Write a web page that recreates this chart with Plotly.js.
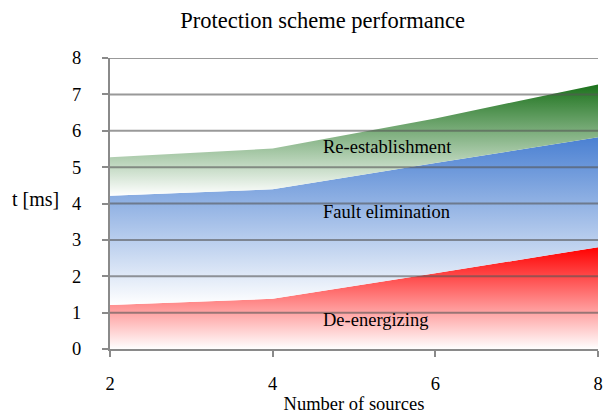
<!DOCTYPE html>
<html>
<head>
<meta charset="utf-8">
<script src="https://cdn.plot.ly/plotly-3.0.1.min.js"></script>
<style>
  html, body { margin: 0; padding: 0; background: #fff; }
  #chart { width: 603px; height: 415px; }
</style>
</head>
<body>
<div id="chart"></div>
<script>
// Number of sources in the network
const sources = [2, 4, 6, 8];

// Duration of each protection stage [ms]
const deEnergizing     = [1.21, 1.38, 2.08, 2.80];
const faultElimination = [3.00, 3.01, 3.03, 3.02];
const reEstablishment  = [1.06, 1.12, 1.23, 1.45];

const seriesNames = ['De-energizing', 'Fault elimination', 'Re-establishment'];
const seriesColors = ['#ff0000', '#4a80d2', '#1c721c'];

const yTicks = [0, 1, 2, 3, 4, 5, 6, 7, 8];
const xTicks = [2, 4, 6, 8];

// cumulative tops for each stacked band, used for the gradient extents
const stages = [deEnergizing, faultElimination, reEstablishment];
const tops = [];
let running = sources.map(() => 0);
stages.forEach(s => {
  running = running.map((v, i) => v + s[i]);
  tops.push(running.slice());
});

const traces = stages.map((vals, k) => {
  const lower = k === 0 ? 0 : Math.min(...tops[k - 1]);
  const upper = Math.max(...tops[k]);
  return {
    x: sources,
    y: vals,
    name: seriesNames[k],
    type: 'scatter',
    mode: 'lines',
    stackgroup: 'stages',
    line: { width: 0 },
    fillgradient: {
      type: 'vertical',
      start: lower,
      stop: upper,
      colorscale: [[0, '#ffffff'], [1, seriesColors[k]]]
    },
    hoverinfo: 'x+y+name'
  };
});

// horizontal gridlines drawn over the filled bands
const gridShapes = yTicks.filter(v => v > 0).map(v => ({
  type: 'line', xref: 'paper', yref: 'y',
  x0: 0, x1: 1, y0: v, y1: v,
  layer: 'above',
  line: { color: 'rgba(85,85,85,0.6)', width: 2 }
}));

const serif = 'Liberation Serif, Times New Roman, serif';
const textSize = 18.5;

// band labels placed inside the areas
const bandLabels = [
  { text: 'Re-establishment', x: 4.59, y: 5.55 },
  { text: 'Fault elimination', x: 4.59, y: 3.76 },
  { text: 'De-energizing', x: 4.59, y: 0.8 }
].map(a => ({
  text: a.text, x: a.x, y: a.y, xref: 'x', yref: 'y',
  xanchor: 'left', yanchor: 'middle', showarrow: false,
  font: { family: serif, size: textSize, color: '#000' }
}));

const layout = {
  width: 603, height: 415,
  margin: { l: 110, r: 5, t: 58, b: 66 },
  paper_bgcolor: '#ffffff',
  plot_bgcolor: '#ffffff',
  showlegend: false,
  font: { family: serif, size: textSize, color: '#000' },
  title: {
    text: 'Protection scheme performance',
    font: { family: serif, size: 22.5, color: '#000' },
    x: 0.535, xanchor: 'center', y: 0.951, yanchor: 'middle'
  },
  xaxis: {
    range: [2, 8],
    tickvals: xTicks,
    ticktext: xTicks.map(String),
    showgrid: false,
    zeroline: false,
    showline: true,
    linecolor: '#8a8a8a',
    linewidth: 2,
    ticks: 'outside',
    ticklen: 6,
    tickwidth: 2,
    tickcolor: '#8a8a8a',
    ticklabelstandoff: 11,
    tickfont: { family: serif, size: textSize, color: '#000' },
    title: { text: 'Number of sources', font: { family: serif, size: textSize, color: '#000' }, standoff: 4 },
    fixedrange: true
  },
  yaxis: {
    range: [0, 8],
    tickvals: yTicks,
    ticktext: yTicks.map(String),
    showgrid: false,
    zeroline: false,
    showline: true,
    linecolor: '#8a8a8a',
    linewidth: 2,
    ticks: 'outside',
    ticklen: 6,
    tickwidth: 2,
    tickcolor: '#8a8a8a',
    ticklabelstandoff: 17,
    tickfont: { family: serif, size: textSize, color: '#000' },
    fixedrange: true
  },
  shapes: gridShapes,
  annotations: bandLabels.concat([{
    text: 't [ms]', xref: 'paper', yref: 'paper',
    x: -0.152, y: 0.515, xanchor: 'center', yanchor: 'middle',
    showarrow: false,
    font: { family: serif, size: 20, color: '#000' }
  }])
};

Plotly.newPlot('chart', traces, layout, { displayModeBar: false, staticPlot: true });
</script>
</body>
</html>
